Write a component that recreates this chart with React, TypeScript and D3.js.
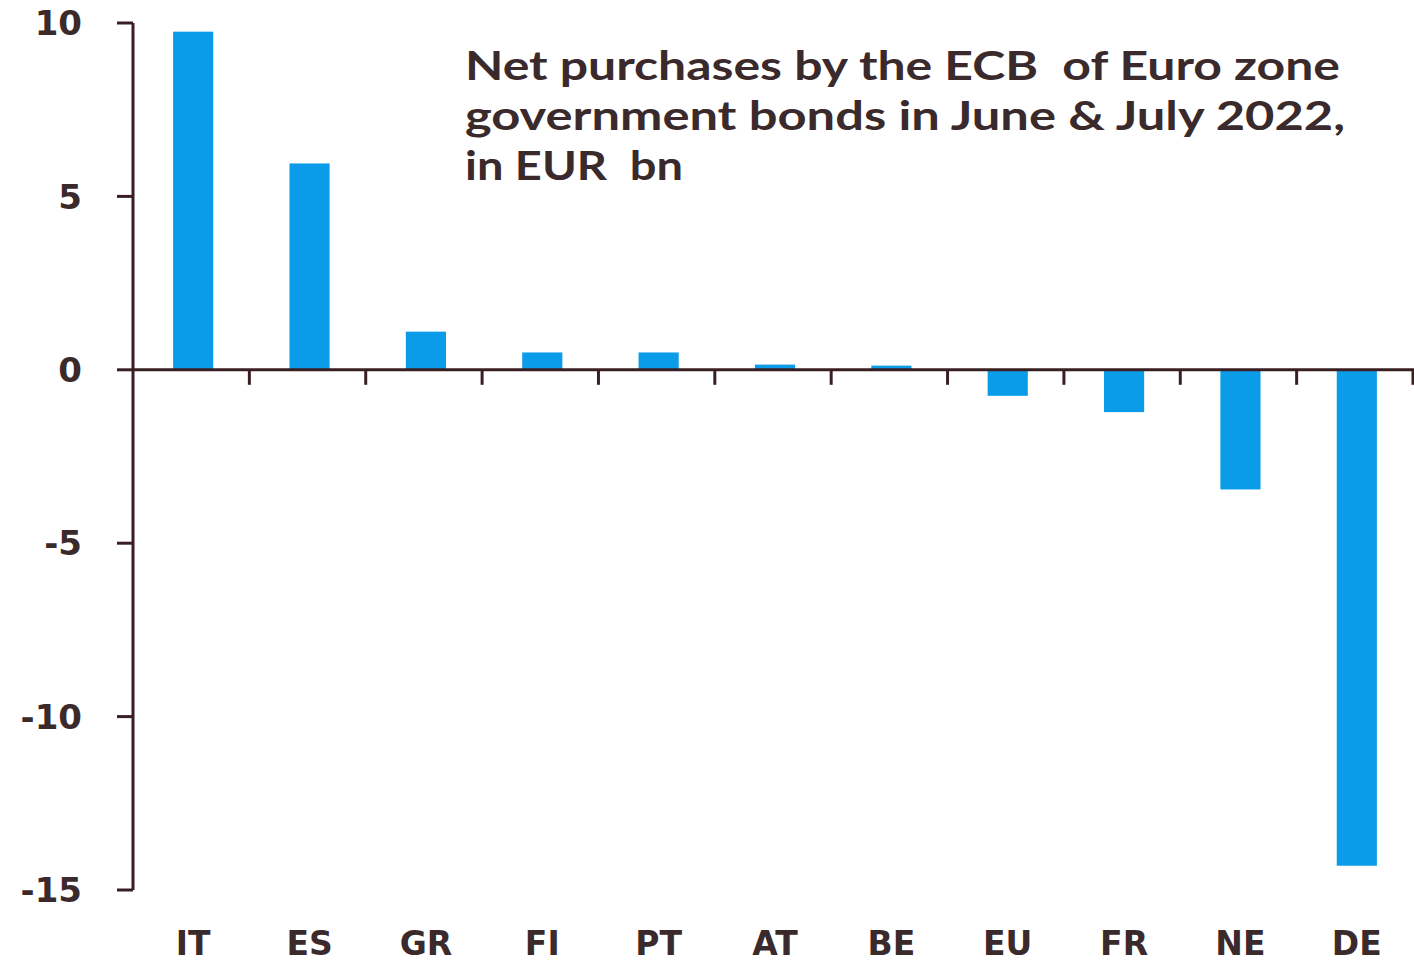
import React from "react";
import * as d3 from "d3";

const categories = ["IT", "ES", "GR", "FI", "PT", "AT", "BE", "EU", "FR", "NE", "DE"];
const values = [9.75, 5.95, 1.1, 0.5, 0.5, 0.15, 0.12, -0.75, -1.22, -3.45, -14.3];
const yTicks = [10, 5, 0, -5, -10, -15];
const titleLines = [
  "Net purchases by the ECB  of Euro zone",
  "government bonds in June & July 2022,",
  "in EUR  bn",
];
const titleWidths = [875, 880, 218];

const W = 1414;
const H = 964;
const axisColor = "#3a1f22";
const textColor = "#3a2a2c";
const barColor = "#0a9ce8";

export default function App() {
  const x = d3
    .scaleBand<string>()
    .domain(categories)
    .range([133, 1413])
    .paddingInner(0.655)
    .paddingOuter(0.3275);
  const y = d3.scaleLinear().domain([-15, 10]).range([890, 23]);
  const step = x.step();
  const boundaries = d3.range(1, categories.length + 1).map((i) => 133 + i * step);
  const y0 = y(0);

  return (
    <svg
      width={W}
      height={H}
      style={{ position: "absolute", left: 0, top: 0, background: "#fff" }}
    >
      <rect x={0} y={0} width={W} height={H} fill="#fff" />
      {categories.map((c, i) => {
        const v = values[i];
        const top = y(Math.max(0, v));
        const bot = y(Math.min(0, v));
        return (
          <rect
            key={c}
            x={(x(c) as number) + 2}
            y={top}
            width={x.bandwidth()}
            height={bot - top}
            fill={barColor}
          />
        );
      })}
      {/* y axis */}
      <line x1={133} x2={133} y1={y(10)} y2={y(-15)} stroke={axisColor} strokeWidth={3} />
      {yTicks.map((t) => (
        <g key={t}>
          <line x1={117} x2={133} y1={y(t)} y2={y(t)} stroke={axisColor} strokeWidth={3} />
          <text
            x={82}
            y={y(t)}
            dy="0.36em"
            textAnchor="end"
            fontFamily="DejaVu Sans"
            fontWeight="bold"
            fontSize={34}
            fill={textColor}
          >
            {t}
          </text>
        </g>
      ))}
      {/* x axis */}
      <line x1={133} x2={1414} y1={y0} y2={y0} stroke={axisColor} strokeWidth={3} />
      {boundaries.map((bx, i) => (
        <line key={i} x1={bx} x2={bx} y1={y0} y2={y0 + 15} stroke={axisColor} strokeWidth={3} />
      ))}
      {categories.map((c) => (
        <text
          key={c}
          x={(x(c) as number) + x.bandwidth() / 2 + 2}
          y={955}
          textAnchor="middle"
          fontFamily="DejaVu Sans"
          fontWeight="bold"
          fontSize={33}
          fill={textColor}
        >
          {c}
        </text>
      ))}
      {titleLines.map((l, i) => (
        <text
          key={i}
          x={465}
          y={80 + i * 50}
          fontFamily="Lato"
          fontWeight="bold"
          fontSize={41}
          fill={textColor}
          textLength={titleWidths[i]}
          lengthAdjust="spacingAndGlyphs"
          style={{ whiteSpace: "pre" }}
        >
          {l}
        </text>
      ))}
    </svg>
  );
}
